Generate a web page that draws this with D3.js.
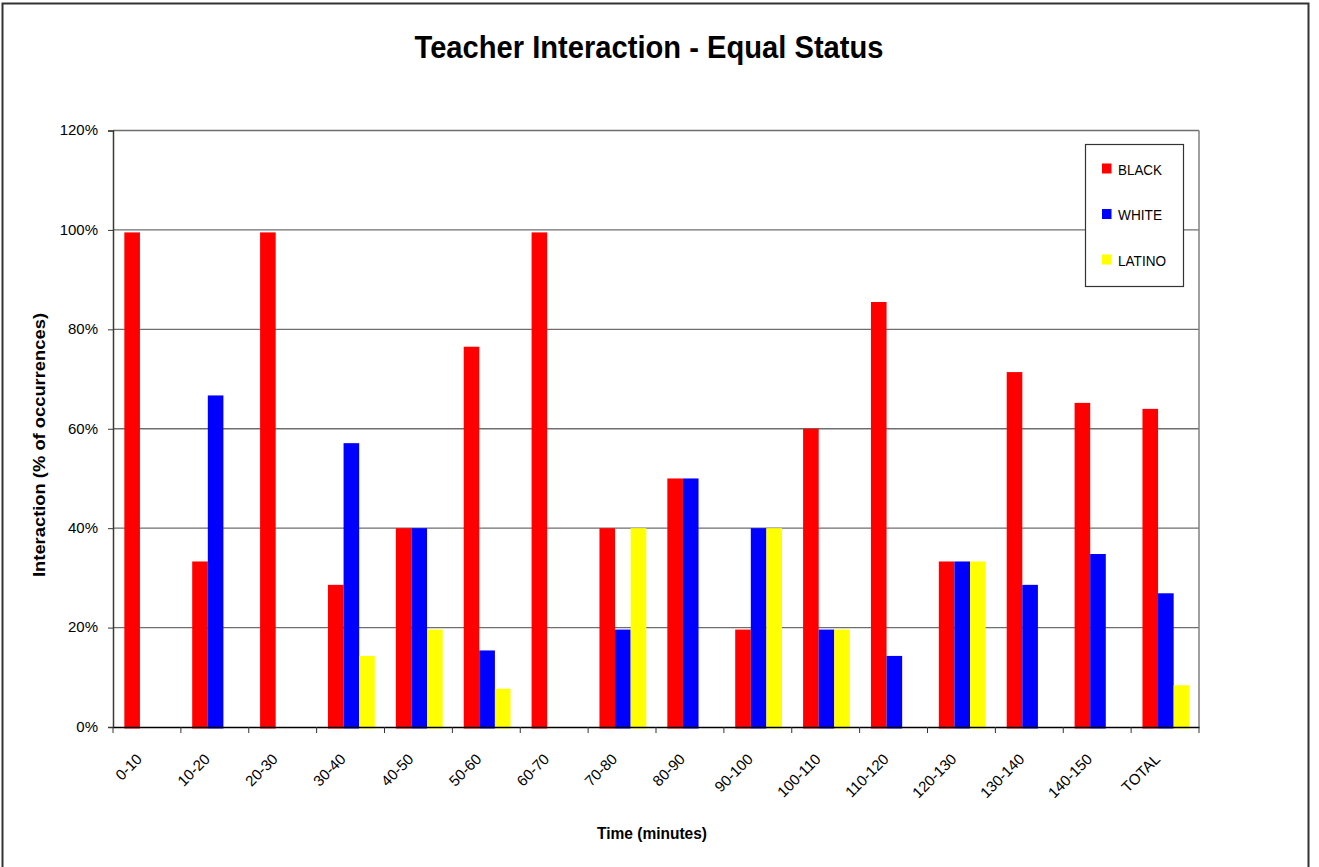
<!DOCTYPE html>
<html><head><meta charset="utf-8">
<script src="https://cdn.jsdelivr.net/npm/d3@7"></script>
<style>body{margin:0;background:#fff}svg{display:block}text{font-family:"Liberation Sans",Arial,sans-serif}</style>
</head><body>
<script>
const categories = ["0-10","10-20","20-30","30-40","40-50","50-60","60-70","70-80","80-90","90-100","100-110","110-120","120-130","130-140","140-150","TOTAL"];
const seriesNames = ["BLACK","WHITE","LATINO"];
const black  = [99.5,33.3,99.5,28.6,40,76.5,99.5,40,50,19.6,60,85.5,33.3,71.4,65.2,64.0];
const white  = [0,66.7,0,57.1,40,15.4,0,19.6,50,40,19.6,14.3,33.3,28.6,34.8,26.9];
const latino = [0,0,0,14.3,19.6,7.7,0,40,0,40,19.6,0,33.3,0,0,8.4];
const colors = ["#ff0000","#0000ff","#ffff00"];
const yTicks = [0,20,40,60,80,100,120];

const W=1319,H=867;
const svg=d3.select("body").append("svg").attr("width",W).attr("height",H);
svg.append("rect").attr("x",2.5).attr("y",3.5).attr("width",1306).attr("height",880)
  .attr("fill","#fff").attr("stroke","#333").attr("stroke-width",2);

const L=113,R=1199,T=130.5,B=727;
const x0=d3.scaleBand().domain(categories).range([L,R]);
const bw=x0.bandwidth();
const barW=15.6;
const x1=d3.scaleBand().domain(seriesNames).range([(bw-3*barW)/2+0.8,(bw-3*barW)/2+0.8+3*barW]);
const y=d3.scaleLinear().domain([0,120]).range([B,T]);

// gridlines
svg.append("g").selectAll("line").data(yTicks.slice(1)).join("line")
  .attr("x1",L).attr("x2",R).attr("y1",d=>y(d)).attr("y2",d=>y(d))
  .attr("stroke","#6e6e6e").attr("stroke-width",1.3);
// right border
svg.append("line").attr("x1",R).attr("x2",R).attr("y1",T).attr("y2",B).attr("stroke","#808080").attr("stroke-width",1.5);

const data=categories.map((c,i)=>({c,vals:[black[i],white[i],latino[i]]}));
const g=svg.append("g");
data.forEach(d=>{
  d.vals.forEach((v,k)=>{
    if(v<=0) return;
    g.append("rect").attr("x",x0(d.c)+x1(seriesNames[k])).attr("y",y(v))
     .attr("width",x1.bandwidth()).attr("height",y(0)-y(v)+1.5).attr("fill",colors[k]);
  });
});

// y axis
const ya=svg.append("g").attr("transform",`translate(${L},0)`)
  .call(d3.axisLeft(y).tickValues(yTicks).tickFormat(d=>d+"%").tickSize(5).tickPadding(10));
ya.select(".domain").attr("stroke","#3a3a30").attr("stroke-width",1.5);
ya.selectAll(".tick line").attr("stroke","#3a3a30");
ya.selectAll("text").attr("font-size",15).attr("fill","#000").attr("dy","0.29em").style("font-family","Liberation Sans, Arial, sans-serif");

// x axis
const xa=svg.append("g").attr("transform",`translate(0,${B})`)
  .call(d3.axisBottom(x0).tickSize(0).tickFormat(""));
xa.select(".domain").attr("stroke","#000").attr("stroke-width",1.3);
const edges=d3.range(categories.length+1).map(i=>L+i*bw);
svg.append("g").selectAll("line").data(edges).join("line")
  .attr("x1",d=>d).attr("x2",d=>d).attr("y1",B).attr("y2",B+6).attr("stroke","#333");
svg.append("g").selectAll("text").data(categories).join("text")
  .attr("transform",d=>`translate(${x0(d)+bw/2-4},${B+33}) rotate(-45)`)
  .attr("text-anchor","end").attr("font-size",15).attr("fill","#000").text(d=>d);

// titles
svg.append("text").attr("x",649).attr("y",58).attr("text-anchor","middle")
  .attr("font-size",31.5).attr("font-weight","bold").attr("fill","#000")
  .attr("textLength",469).attr("lengthAdjust","spacingAndGlyphs").text("Teacher Interaction - Equal Status");
svg.append("text").attr("x",652).attr("y",839).attr("text-anchor","middle")
  .attr("font-size",17).attr("font-weight","bold")
  .attr("textLength",110).attr("lengthAdjust","spacingAndGlyphs").text("Time (minutes)");
svg.append("text").attr("transform","translate(44.5,445) rotate(-90)").attr("text-anchor","middle")
  .attr("font-size",17).attr("font-weight","bold")
  .attr("textLength",264).attr("lengthAdjust","spacingAndGlyphs").text("Interaction (% of occurrences)");

// legend
const lg=svg.append("g");
lg.append("rect").attr("x",1085.5).attr("y",144.5).attr("width",98).attr("height",142)
  .attr("fill","#fff").attr("stroke","#333").attr("stroke-width",1.2);
seriesNames.forEach((s,k)=>{
  const by=174.5+k*45.5;
  lg.append("rect").attr("x",1102).attr("y",by-11).attr("width",9.5).attr("height",10).attr("fill",colors[k]);
  lg.append("text").attr("x",1118).attr("y",by).attr("font-size",14)
    .attr("textLength",k===0?44:(k===1?44:48)).attr("lengthAdjust","spacingAndGlyphs").text(s);
});
</script>
</body></html>
